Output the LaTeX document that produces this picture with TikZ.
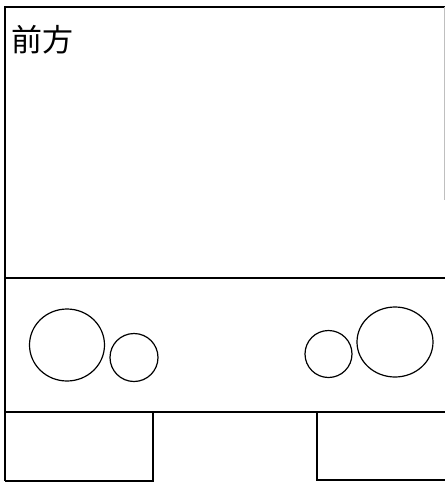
\documentclass[tikz,border=0pt]{standalone}
\usepackage{fontspec}
\newfontfamily\cjk{Noto Sans CJK JP}
\begin{document}
\begin{tikzpicture}[x=1pt,y=-1pt,line width=1.4pt,
  wheel/.style={draw,line width=1.2pt}]
\useasboundingbox (0,0) rectangle (445,483);
% outer frame
\coordinate (tl) at (5,7);
\coordinate (tr) at (446,7);
\coordinate (bl) at (5,481);
\draw (tr) -- (tl) -- (bl);
\draw[gray!50,line width=1pt] (444.5,7) -- (444.5,200);
% dividers
\coordinate (m1l) at (5,278);
\coordinate (m1r) at (446,278);
\draw (m1l) -- (m1r);
\coordinate (m2l) at (5,412);
\coordinate (m2r) at (446,412);
\draw (m2l) -- (m2r);
% text
\node[anchor=north west,inner sep=0pt,font=\cjk\fontsize{31}{31}\selectfont] (label) at (11,25) {前方};
% wheels
\draw[wheel] (67,345) ellipse [x radius=37.5,y radius=36];
\draw[wheel] (134,357.5) circle [radius=24];
\draw[wheel] (328.5,354) circle [radius=23.5];
\draw[wheel] (395,342) ellipse [x radius=38,y radius=35];
% boxes
\draw (153,412) -- (153,481) -- (5,481);
\draw (317,412) -- (317,480) -- (446,480);
\end{tikzpicture}
\end{document}
